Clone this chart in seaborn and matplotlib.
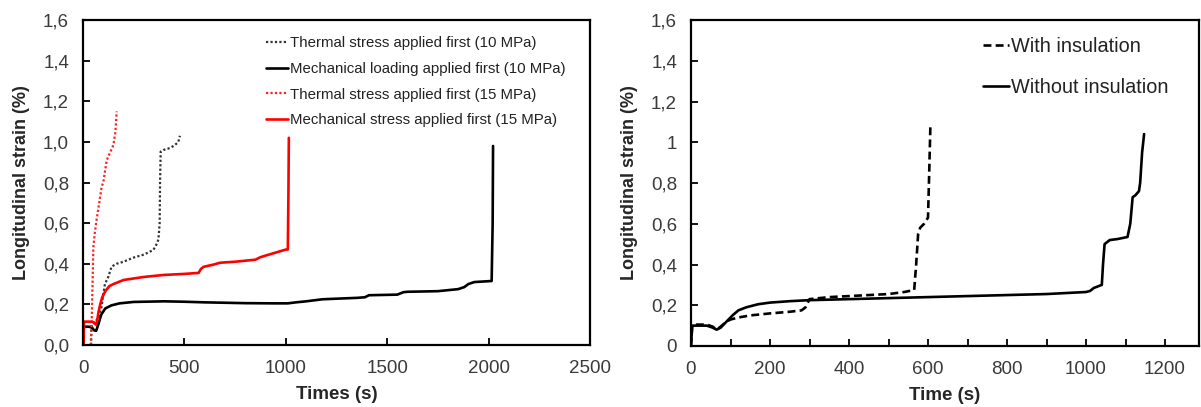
import numpy as np
import pandas as pd
import matplotlib
matplotlib.use("Agg")
import matplotlib.pyplot as plt
import seaborn as sns

# ---------------- data ----------------
# Left panel
therm10_t = [40, 42, 60, 67, 80, 92, 100, 108, 125, 141, 166, 200, 248, 300, 347, 365, 372, 378, 380, 383, 396, 430, 454, 470, 478]
therm10_s = [0.0, 0.10, 0.11, 0.123, 0.15, 0.19, 0.25, 0.30, 0.336, 0.386, 0.40, 0.41, 0.43, 0.445, 0.468, 0.50, 0.52, 0.60, 0.80, 0.952, 0.96, 0.97, 0.985, 1.0, 1.03]

mech10_t = [0, 3, 8, 30, 45, 55, 65, 75, 90, 110, 140, 180, 250, 400, 500, 600, 800, 950, 1010, 1050, 1100, 1180, 1250, 1350, 1390, 1410, 1550, 1580, 1600, 1750, 1850, 1880, 1900, 1930, 2015, 2020, 2022]
mech10_s = [0.0, 0.085, 0.09, 0.09, 0.085, 0.072, 0.07, 0.10, 0.15, 0.18, 0.195, 0.205, 0.212, 0.215, 0.213, 0.21, 0.206, 0.205, 0.205, 0.21, 0.215, 0.225, 0.228, 0.232, 0.235, 0.245, 0.248, 0.26, 0.262, 0.265, 0.275, 0.285, 0.30, 0.31, 0.315, 0.60, 0.98]

therm15_t = [38, 40, 43, 47, 51, 58, 67, 80, 92, 100, 117, 130, 150, 160, 166]
therm15_s = [0.0, 0.05, 0.12, 0.30, 0.48, 0.55, 0.616, 0.70, 0.78, 0.80, 0.91, 0.94, 0.985, 1.05, 1.15]

mech15_t = [3, 5, 20, 45, 55, 64, 70, 76, 85, 95, 110, 130, 150, 200, 300, 400, 500, 570, 582, 595, 640, 676, 750, 850, 874, 900, 950, 1000, 1010, 1013, 1015]
mech15_s = [0.0, 0.115, 0.115, 0.115, 0.11, 0.10, 0.12, 0.16, 0.20, 0.235, 0.265, 0.29, 0.30, 0.32, 0.335, 0.345, 0.35, 0.355, 0.375, 0.385, 0.395, 0.405, 0.41, 0.42, 0.432, 0.44, 0.455, 0.47, 0.47, 0.75, 1.02]

# Right panel
noins_t = [0, 3, 10, 40, 55, 65, 75, 90, 105, 120, 140, 170, 200, 250, 300, 400, 500, 600, 700, 800, 900, 1000, 1010, 1020, 1040, 1043, 1047, 1060, 1080, 1105, 1112, 1118, 1125, 1134, 1137, 1142, 1147]
noins_s = [0.0, 0.10, 0.10, 0.10, 0.09, 0.08, 0.09, 0.12, 0.15, 0.175, 0.19, 0.205, 0.213, 0.22, 0.225, 0.23, 0.235, 0.24, 0.245, 0.25, 0.255, 0.265, 0.27, 0.285, 0.30, 0.40, 0.50, 0.52, 0.525, 0.535, 0.60, 0.73, 0.74, 0.76, 0.80, 0.95, 1.04]

ins_t = [0, 3, 10, 40, 55, 65, 75, 90, 100, 120, 150, 200, 250, 280, 290, 295, 300, 350, 400, 450, 500, 540, 565, 570, 575, 580, 590, 600, 603, 606]
ins_s = [0.0, 0.10, 0.105, 0.105, 0.095, 0.08, 0.095, 0.12, 0.13, 0.14, 0.15, 0.16, 0.168, 0.175, 0.19, 0.21, 0.23, 0.24, 0.245, 0.25, 0.255, 0.265, 0.275, 0.40, 0.55, 0.58, 0.60, 0.63, 0.85, 1.08]

left_labels = ["Thermal stress applied first (10 MPa)",
               "Mechanical loading applied first (10 MPa)",
               "Thermal stress applied first (15 MPa)",
               "Mechanical stress applied first (15 MPa)"]
right_labels = ["With insulation", "Without insulation"]

left_xticks = [0, 500, 1000, 1500, 2000, 2500]
left_yticks = [0.0, 0.2, 0.4, 0.6, 0.8, 1.0, 1.2, 1.4, 1.6]
left_ytick_labels = ["0,0", "0,2", "0,4", "0,6", "0,8", "1,0", "1,2", "1,4", "1,6"]
right_xticks = list(range(0, 1300, 100))
right_xtick_labels = ["0", "", "200", "", "400", "", "600", "", "800", "", "1000", "", "1200"]
right_ytick_labels = ["0", "0,2", "0,4", "0,6", "0,8", "1", "1,2", "1,4", "1,6"]

# ---------------- style ----------------
sns.set_style("white")
plt.rcParams["font.family"] = ["Liberation Sans", "DejaVu Sans"]

fig = plt.figure(figsize=(12.01, 4.07), dpi=100)
W, H = 1201, 407
axL = fig.add_axes([83 / W, (H - 345) / H, (590 - 83) / W, (345 - 20) / H])
axR = fig.add_axes([691 / W, (H - 346) / H, (1199 - 691) / W, (346 - 20) / H])


def draw(ax, t, s, color, ls, lw, label):
    df = pd.DataFrame({"t": t, "s": s})
    sns.lineplot(data=df, x="t", y="s", ax=ax, color=color, linestyle=ls,
                 linewidth=lw, sort=False, estimator=None, label=label, legend=False)


dot = (0, (1.0, 1.0))
draw(axL, therm10_t, therm10_s, "#333333", dot, 1.6, left_labels[0])
draw(axL, mech10_t, mech10_s, "black", "-", 1.9, left_labels[1])
draw(axL, therm15_t, therm15_s, "#ff2020", dot, 1.6, left_labels[2])
draw(axL, mech15_t, mech15_s, "#ff0000", "-", 1.9, left_labels[3])

draw(axR, ins_t, ins_s, "black", (0, (3.0, 1.6)), 1.9, right_labels[0])
draw(axR, noins_t, noins_s, "black", "-", 1.9, right_labels[1])

tick_color = "#3a3a3a"
for ax in (axL, axR):
    for sp in ax.spines.values():
        sp.set_visible(True)
        sp.set_color("black")
        sp.set_linewidth(1.6)
    ax.tick_params(direction="in", length=5, width=1.3, colors="black",
                   labelcolor=tick_color, labelsize=13.5,
                   bottom=True, left=True, top=False, right=False)
    ax.tick_params(axis="x", pad=11)
    ax.tick_params(axis="y", pad=10)
    ax.set_ylim(0, 1.6)
    ax.set_yticks(left_yticks)
    ax.set_ylabel("Longitudinal strain (%)", fontsize=13, fontweight="bold", labelpad=9)

axL.set_xlim(0, 2500)
axL.set_xticks(left_xticks)
axL.set_xticklabels([str(v) for v in left_xticks])
axL.set_yticklabels(left_ytick_labels)
axL.set_xlabel("Times (s)", fontsize=13.5, fontweight="bold", labelpad=6)

axR.set_xlim(0, 1286)
axR.set_xticks(right_xticks)
axR.set_xticklabels(right_xtick_labels)
axR.set_yticklabels(right_ytick_labels)
axR.set_xlabel("Time (s)", fontsize=13.5, fontweight="bold", labelpad=6)

legL = axL.legend(loc="upper left", bbox_to_anchor=(0.36, 0.95), frameon=False,
                  fontsize=10.8, handlelength=1.5, handletextpad=0.15,
                  labelspacing=0.78, borderpad=0, borderaxespad=0)
legR = axR.legend(loc="upper left", bbox_to_anchor=(0.575, 0.948), frameon=False,
                  fontsize=14.3, handlelength=1.3, handletextpad=0.1,
                  labelspacing=1.1, borderpad=0, borderaxespad=0)
for leg in (legL, legR):
    for txt in leg.get_texts():
        txt.set_color("#222222")

fig.savefig("out.png", dpi=100)
